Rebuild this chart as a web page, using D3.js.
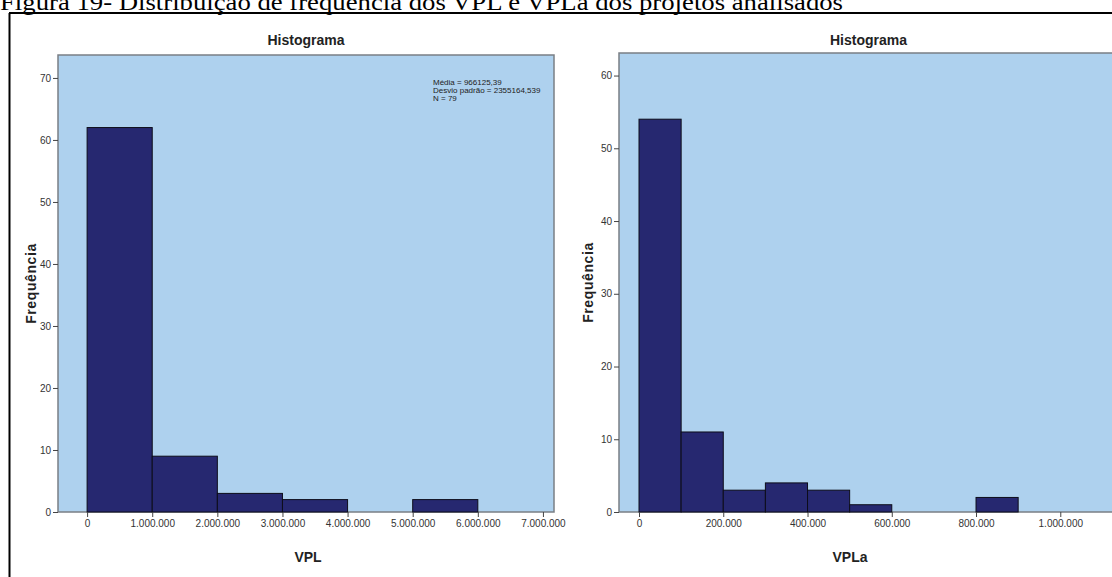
<!DOCTYPE html>
<html><head><meta charset="utf-8">
<script src="https://cdn.jsdelivr.net/npm/d3@7"></script>
<style>body{margin:0;background:#fff;overflow:hidden}svg{display:block}</style>
</head><body>
<script>
const caption = "Figura 19- Distribuição de frequência dos VPL e VPLa dos projetos analisados";
// Left histogram (VPL)
const vplBinStarts = [0, 1000000, 2000000, 3000000, 4000000, 5000000];
const vplBinWidth = 1000000;
const vplCounts = [62, 9, 3, 2, 0, 2];
const vplXTicks = [0, 1000000, 2000000, 3000000, 4000000, 5000000, 6000000, 7000000];
const vplYTicks = [0, 10, 20, 30, 40, 50, 60, 70];
const vplStats = ["Média = 966125,39", "Desvio padrão = 2355164,539", "N = 79"];
// Right histogram (VPLa)
const vplaBinStarts = [0, 100000, 200000, 300000, 400000, 500000, 600000, 700000, 800000];
const vplaBinWidth = 100000;
const vplaCounts = [54, 11, 3, 4, 3, 1, 0, 0, 2];
const vplaXTicks = [0, 200000, 400000, 600000, 800000, 1000000];
const vplaYTicks = [0, 10, 20, 30, 40, 50, 60];

const W = 1112, H = 577;
const svg = d3.select("body").append("svg").attr("width", W).attr("height", H);

svg.append("text").attr("x", 0).attr("y", 10)
  .attr("font-family", "Liberation Serif, Times New Roman, serif").attr("font-size", 24)
  .attr("textLength", 843).attr("lengthAdjust", "spacingAndGlyphs")
  .attr("fill", "#000").text(caption);

// frame
svg.append("line").attr("x1", 9).attr("x2", W).attr("y1", 13).attr("y2", 13).attr("stroke", "#000").attr("stroke-width", 2);
svg.append("line").attr("x1", 9.5).attr("x2", 9.5).attr("y1", 13).attr("y2", H).attr("stroke", "#000").attr("stroke-width", 2);

const fmt = v => v === 0 ? "0" : d3.format(",")(v).replace(/,/g, ".");

function hist(o) {
  const g = svg.append("g");
  const x = d3.scaleLinear().domain(o.xDomain).range([o.left, o.right]);
  const y = d3.scaleLinear().domain(o.yDomain).range([o.bottom, o.top]);
  g.append("rect").attr("x", o.left).attr("y", o.top).attr("width", o.right - o.left).attr("height", o.bottom - o.top)
    .attr("fill", "#aed1ee").attr("stroke", "#7a7f85").attr("stroke-width", 1.5);
  g.selectAll("rect.bar").data(o.starts.map((s, i) => ({s, c: o.counts[i]})).filter(d => d.c > 0))
    .enter().append("rect").attr("class", "bar")
    .attr("x", d => x(d.s)).attr("width", d => x(d.s + o.bw) - x(d.s))
    .attr("y", d => y(d.c)).attr("height", d => y(0) - y(d.c))
    .attr("fill", "#262870").attr("stroke", "#0d0d1a").attr("stroke-width", 1);
  const ya = g.append("g").attr("transform", `translate(${o.left},0)`)
    .call(d3.axisLeft(y).tickValues(o.yTicks).tickSize(5).tickPadding(2).tickFormat(d3.format("d")));
  const xa = g.append("g").attr("transform", `translate(0,${o.bottom})`)
    .call(d3.axisBottom(x).tickValues(o.xTicks).tickSize(5).tickPadding(3).tickFormat(fmt));
  [ya, xa].forEach(a => {
    a.select(".domain").remove();
    a.selectAll("line").attr("stroke", "#444");
    a.selectAll("text").attr("font-family", "Liberation Sans Narrow, Liberation Sans, Arial, sans-serif")
      .attr("font-size", 10).attr("fill", "#333");
  });
  g.append("text").attr("x", (o.left + o.right) / 2).attr("y", 45).attr("text-anchor", "middle")
    .attr("font-family", "Liberation Sans, Arial, sans-serif").attr("font-size", 14).attr("font-weight", "bold")
    .attr("fill", "#222").text("Histograma");
  g.append("text").attr("transform", `translate(${o.ylx},${(o.top + o.bottom) / 2}) rotate(-90)`)
    .attr("text-anchor", "middle").attr("font-family", "Liberation Sans, Arial, sans-serif")
    .attr("font-size", 14).attr("letter-spacing", 0.6).attr("font-weight", "bold").attr("fill", "#222").text("Frequência");
  g.append("text").attr("x", o.xlx).attr("y", 562).attr("text-anchor", "middle")
    .attr("font-family", "Liberation Sans, Arial, sans-serif")
    .attr("font-size", 14).attr("font-weight", "bold").attr("fill", "#222").text(o.xlabel);
  return g;
}

const gl = hist({left: 58, right: 554, top: 55, bottom: 512,
  xDomain: [-447000, 7170000], yDomain: [0, 73.7],
  starts: vplBinStarts, bw: vplBinWidth, counts: vplCounts,
  xTicks: vplXTicks, yTicks: vplYTicks, ylx: 36, xlx: 308, xlabel: "VPL"});
const st = gl.append("text").attr("font-family", "Liberation Sans, Arial, sans-serif")
  .attr("font-size", 8).attr("fill", "#222");
vplStats.forEach((t, i) => st.append("tspan").attr("x", 433).attr("y", 85 + i * 8).text(t));

hist({left: 619, right: 1118, top: 53, bottom: 512,
  xDomain: [-47500, 1137000], yDomain: [0, 63.1],
  starts: vplaBinStarts, bw: vplaBinWidth, counts: vplaCounts,
  xTicks: vplaXTicks, yTicks: vplaYTicks, ylx: 593, xlx: 850, xlabel: "VPLa"});
</script>
</body></html>
